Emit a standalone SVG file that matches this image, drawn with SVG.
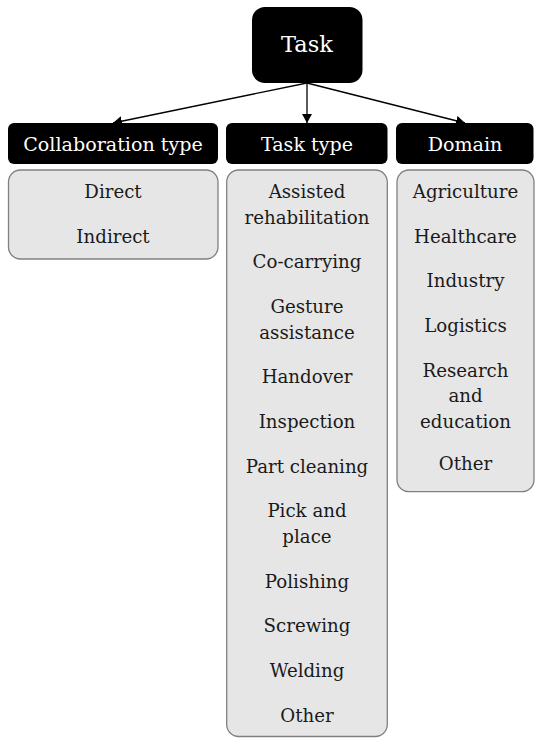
<svg xmlns="http://www.w3.org/2000/svg" width="535" height="738" viewBox="0 0 535 738">
  <style>
    .root { fill: #000; }
    .head { fill: #000; }
    .list { fill: #e6e6e6; stroke: #808080; stroke-width: 1.3; }
    .f { font-family: 'DejaVu Serif', 'Liberation Serif', serif; }
    .tw { fill: #fff; font-size: 19.1px; text-anchor: middle; }
    .title { fill: #fff; font-size: 22.5px; text-anchor: middle; }
    .it { fill: #1a1a1a; font-size: 18.2px; text-anchor: middle; }
    .conn { stroke: #000; stroke-width: 1.3; fill: none; marker-end: url(#arr); }
  </style>
  <defs>
    <marker id="arr" markerUnits="userSpaceOnUse" viewBox="0 0 9 10" refX="9" refY="5" markerWidth="9" markerHeight="10" orient="auto">
      <path d="M0,0 L9,5 L0,10 Z" fill="#000"/>
    </marker>
  </defs>
  <rect width="535" height="738" fill="#fff"/>

  <g id="connectors">
    <line class="conn" x1="307" y1="83" x2="113" y2="123"/>
    <line class="conn" x1="307" y1="83" x2="307" y2="123"/>
    <line class="conn" x1="307" y1="83" x2="465" y2="123"/>
  </g>

  <g class="f">
  <g id="task">
    <rect class="root" x="252" y="7" width="110.5" height="76" rx="13"/>
    <text class="title" x="307" y="52">Task</text>
  </g>

  <g id="collaboration-type">
    <rect class="head" x="8" y="123" width="210" height="41" rx="6"/>
    <text class="tw" x="113" y="150.5">Collaboration type</text>
  </g>
  <g id="collaboration-list">
    <rect class="list" x="8.5" y="170" width="209.5" height="89" rx="12"/>
    <text class="it" x="113" y="198.3">Direct</text>
    <text class="it" x="113" y="243.3">Indirect</text>
  </g>

  <g id="task-type">
    <rect class="head" x="226" y="123" width="161.5" height="41" rx="6"/>
    <text class="tw" x="307" y="150.5">Task type</text>
  </g>
  <g id="task-type-list">
    <rect class="list" x="226.7" y="170" width="160.6" height="566.5" rx="12"/>
    <text class="it" x="307" y="198">Assisted</text>
    <text class="it" x="307" y="223.6">rehabilitation</text>
    <text class="it" x="307" y="268.3">Co-carrying</text>
    <text class="it" x="307" y="313">Gesture</text>
    <text class="it" x="307" y="338.6">assistance</text>
    <text class="it" x="307" y="383.3">Handover</text>
    <text class="it" x="307" y="428">Inspection</text>
    <text class="it" x="307" y="472.7">Part cleaning</text>
    <text class="it" x="307" y="517.4">Pick and</text>
    <text class="it" x="307" y="543">place</text>
    <text class="it" x="307" y="587.7">Polishing</text>
    <text class="it" x="307" y="632.4">Screwing</text>
    <text class="it" x="307" y="677.1">Welding</text>
    <text class="it" x="307" y="721.8">Other</text>
  </g>

  <g id="domain">
    <rect class="head" x="396" y="123" width="137.5" height="41" rx="6"/>
    <text class="tw" x="465" y="150.5">Domain</text>
  </g>
  <g id="domain-list">
    <rect class="list" x="397" y="170" width="137" height="321.7" rx="12"/>
    <text class="it" x="465.5" y="198">Agriculture</text>
    <text class="it" x="465.5" y="242.7">Healthcare</text>
    <text class="it" x="465.5" y="287.4">Industry</text>
    <text class="it" x="465.5" y="332.1">Logistics</text>
    <text class="it" x="465.5" y="376.8">Research</text>
    <text class="it" x="465.5" y="402.4">and</text>
    <text class="it" x="465.5" y="428">education</text>
    <text class="it" x="465.5" y="469.5">Other</text>
  </g>
  </g>
</svg>
